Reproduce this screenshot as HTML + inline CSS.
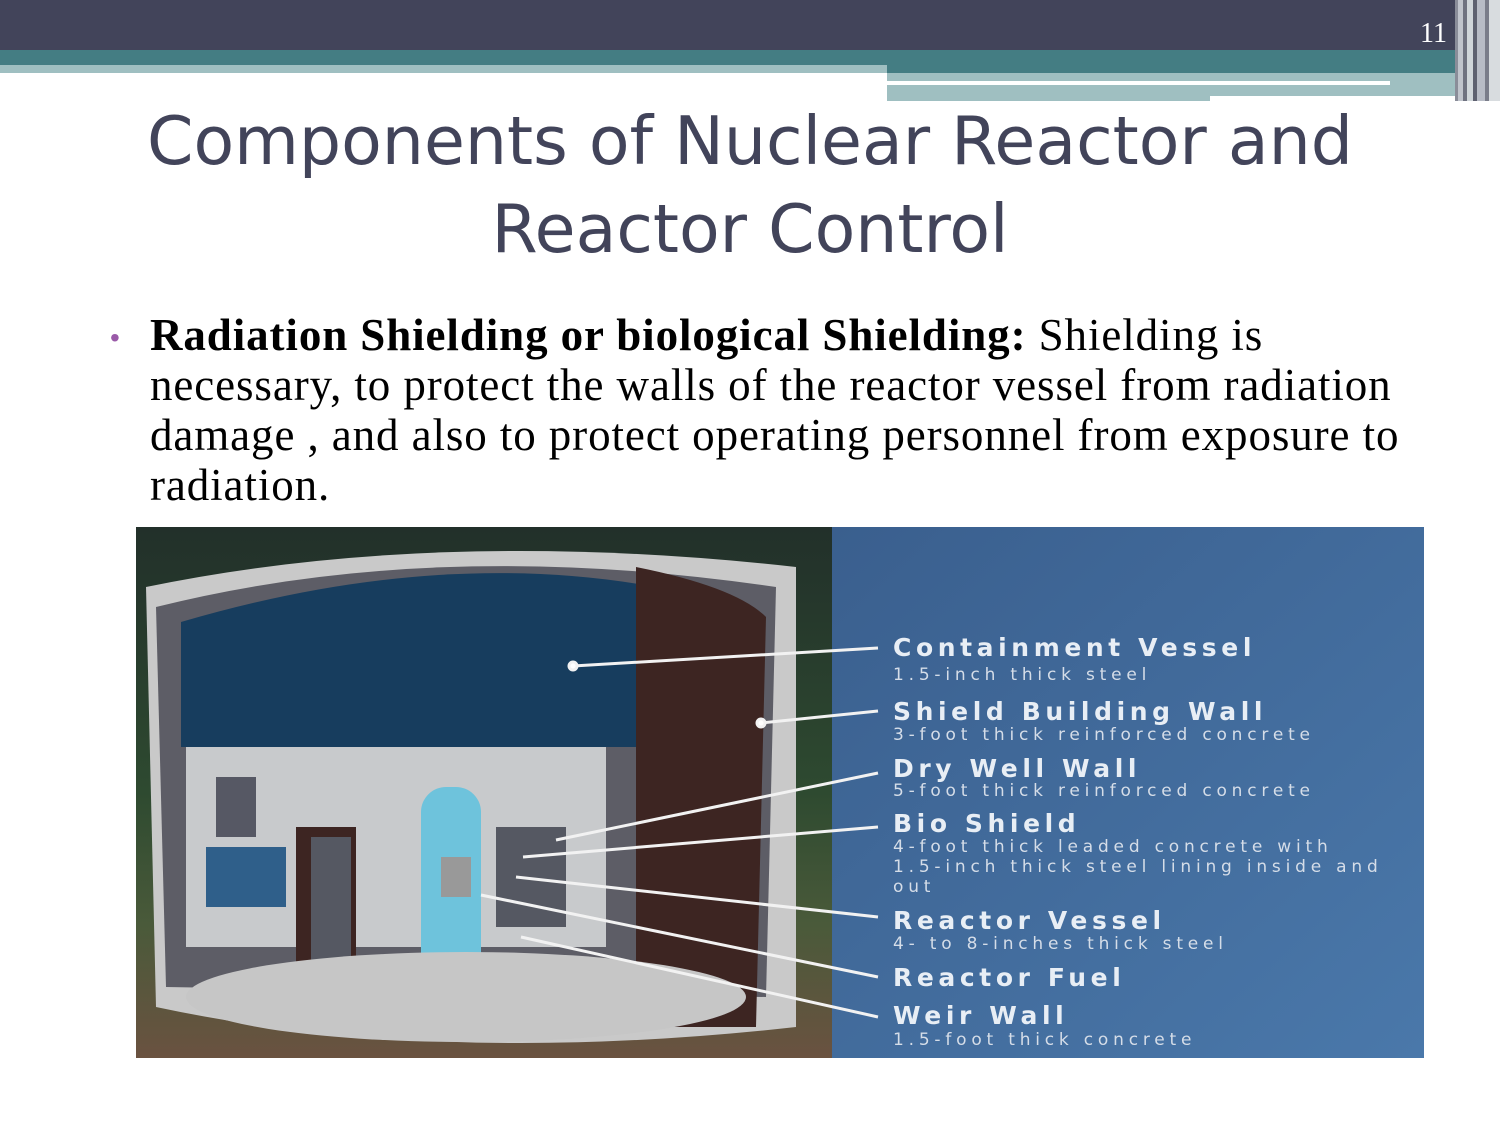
<!DOCTYPE html>
<html><head><meta charset="utf-8"><style>
body{margin:0;width:1500px;height:1125px;background:#fff;position:relative;overflow:hidden;font-family:"Liberation Sans",sans-serif}
.a{position:absolute}
.lbl{position:absolute;left:893px;color:#e8eef5;font-weight:bold;font-family:"DejaVu Sans",sans-serif;font-size:25px;letter-spacing:4.6px;white-space:nowrap}
.sub{position:absolute;left:893px;color:#d5dde8;font-family:"DejaVu Sans",sans-serif;font-size:17px;letter-spacing:4.8px;line-height:20px;white-space:nowrap}
</style></head><body>
<div class="a" style="left:0;top:0;width:1500px;height:50px;background:#42445a"></div>
<div class="a" style="left:0;top:50px;width:1500px;height:23px;background:#447d83"></div>
<div class="a" style="left:0;top:65px;width:887px;height:8px;background:#9fbfc1"></div>
<div class="a" style="left:887px;top:73px;width:568px;height:28px;background:#9fbfc1"></div>
<div class="a" style="left:887px;top:81px;width:503px;height:4px;background:#fff"></div>
<div class="a" style="left:1210px;top:96px;width:245px;height:6px;background:#fff"></div>
<div class="a" style="left:1455px;top:0;width:45px;height:101px;background:linear-gradient(90deg,#8a8d99 0,#8a8d99 3px,#c0c4cc 3px,#c0c4cc 8px,#6f7280 8px,#6f7280 12px,#d0d6da 12px,#d0d6da 18px,#5e6170 18px,#5e6170 22px,#b8bcc6 22px,#b8bcc6 30px,#7a7d8a 30px,#7a7d8a 34px,#d8dcdf 34px)"></div>
<div class="a" style="left:1420px;top:18px;color:#fff;font-family:'Liberation Serif',serif;font-size:28px">11</div>
<div class="a" style="left:0;top:97px;width:1500px;text-align:center;color:#42445a;font-family:'DejaVu Sans',sans-serif;font-size:66.5px;line-height:88px">Components of Nuclear Reactor and<br>Reactor Control</div>
<div class="a" style="left:110px;top:322px;color:#9a5aa8;font-size:28px">•</div>
<div class="a" style="left:150px;top:310px;white-space:nowrap;color:#000;font-family:'Liberation Serif',serif;font-size:45px;letter-spacing:0.9px;line-height:50px"><b>Radiation Shielding or biological Shielding:</b> Shielding is<br>necessary, to protect the walls of the reactor vessel from radiation<br>damage , and also to protect operating personnel from exposure to<br>radiation.</div>
<svg class="a" style="left:136px;top:527px" width="1288" height="531" viewBox="0 0 1288 531">
<defs><linearGradient id="bg" x1="0" x2="0" y1="0" y2="1"><stop offset="0" stop-color="#22302a"/><stop offset="0.5" stop-color="#2e4a30"/><stop offset="0.75" stop-color="#4a5a3a"/><stop offset="1" stop-color="#6a5240"/></linearGradient>
<linearGradient id="pn" x1="0" x2="1" y1="0" y2="1"><stop offset="0" stop-color="#3a5f8e"/><stop offset="1" stop-color="#4a78aa"/></linearGradient></defs>
<rect width="696" height="531" fill="url(#bg)"/>
<rect x="696" width="592" height="531" fill="url(#pn)"/>
<path d="M10 60 Q300 0 660 40 L660 500 Q300 540 20 480 Z" fill="#c9c9c9"/>
<path d="M20 80 Q300 10 640 60 L630 470 L30 460 Z" fill="#5d5d66"/>
<path d="M45 95 Q300 20 520 60 L520 220 L45 220 Z" fill="#173d5e"/>
<path d="M500 40 Q600 60 630 90 L620 500 L500 500 Z" fill="#3d2522"/>
<path d="M50 220 L470 220 L470 420 L50 420 Z" fill="#c8cacc"/>
<rect x="80" y="250" width="40" height="60" fill="#565864"/>
<rect x="70" y="320" width="80" height="60" fill="#2f5f8a"/>
<rect x="160" y="300" width="60" height="170" fill="#3d2522"/>
<rect x="175" y="310" width="40" height="150" fill="#555862"/>
<rect x="285" y="260" width="60" height="200" rx="25" fill="#6ec3dc"/>
<rect x="305" y="330" width="30" height="40" fill="#999"/>
<rect x="360" y="300" width="70" height="100" fill="#555862"/>
<ellipse cx="330" cy="470" rx="280" ry="45" fill="#c6c6c6"/>
<g stroke="#f2f2f2" stroke-width="3" fill="#fff">
<line x1="437" y1="139" x2="742" y2="121"/><circle cx="437" cy="139" r="4"/>
<line x1="625" y1="196" x2="742" y2="184"/><circle cx="625" cy="196" r="4"/>
<line x1="420" y1="313" x2="742" y2="246"/>
<line x1="387" y1="330" x2="742" y2="300"/>
<line x1="380" y1="350" x2="742" y2="390"/>
<line x1="345" y1="368" x2="742" y2="450"/>
<line x1="385" y1="410" x2="742" y2="490"/>
</g>
</svg>
<div class="lbl" style="top:633px">Containment Vessel</div>
<div class="sub" style="top:665px">1.5-inch thick steel</div>
<div class="lbl" style="top:697px">Shield Building Wall</div>
<div class="sub" style="top:725px">3-foot thick reinforced concrete</div>
<div class="lbl" style="top:754px">Dry Well Wall</div>
<div class="sub" style="top:781px">5-foot thick reinforced concrete</div>
<div class="lbl" style="top:809px">Bio Shield</div>
<div class="sub" style="top:837px">4-foot thick leaded concrete with<br>1.5-inch thick steel lining inside and<br>out</div>
<div class="lbl" style="top:906px">Reactor Vessel</div>
<div class="sub" style="top:934px">4- to 8-inches thick steel</div>
<div class="lbl" style="top:963px">Reactor Fuel</div>
<div class="lbl" style="top:1001px">Weir Wall</div>
<div class="sub" style="top:1030px">1.5-foot thick concrete</div>
</body></html>
